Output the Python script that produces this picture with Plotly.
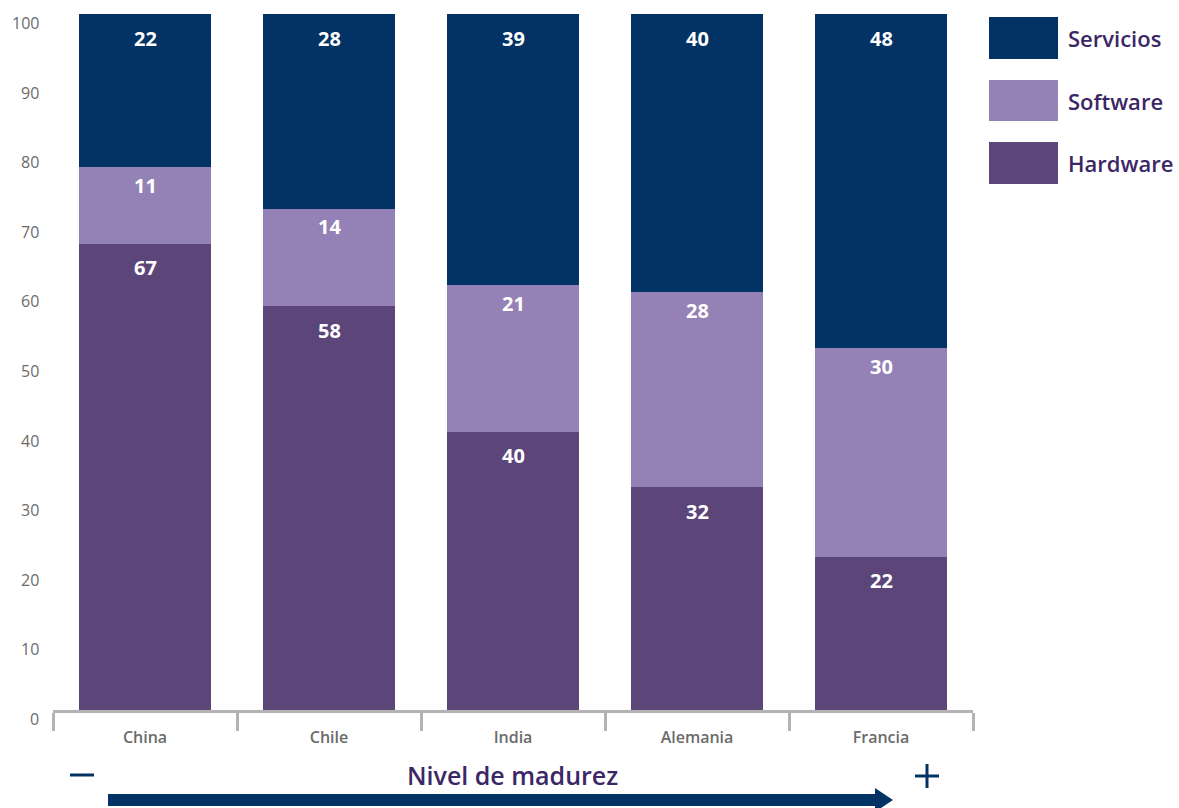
import plotly.graph_objects as go

paises = ["China", "Chile", "India", "Alemania", "Francia"]
hardware = [67, 58, 40, 32, 22]
software = [11, 14, 21, 28, 30]
servicios = [22, 28, 39, 40, 48]
y_ticks = [0, 10, 20, 30, 40, 50, 60, 70, 80, 90, 100]

C_SERV = "#023364"
C_SOFT = "#9481b6"
C_HARD = "#5b4579"
C_TXT = "#3b2766"
C_GRAY = "#6b6b6b"
C_AXIS = "#b3b3b3"
FONT = "Open Sans"

fig = go.Figure()
series = [("Hardware", hardware, C_HARD), ("Software", software, C_SOFT), ("Servicios", servicios, C_SERV)]
for name, vals, col in series:
    fig.add_trace(go.Bar(x=paises, y=vals, name=name, marker=dict(color=col, line=dict(width=0)),
                         showlegend=False, hoverinfo="skip"))

label_shift = {"Hardware": -24, "Software": -18, "Servicios": -24}
ann = []
base = [0] * len(paises)
for name, vals, col in series:
    for i, (p, v) in enumerate(zip(paises, vals)):
        top = base[i] + v
        ann.append(dict(x=p, y=top, xref="x", yref="y", text=f"<b>{v}</b>", showarrow=False,
                        yanchor="middle", yshift=label_shift[name],
                        font=dict(family=FONT, size=20, color="white")))
        base[i] = top

for t in y_ticks:
    ann.append(dict(x=0, y=t, xref="paper", yref="y", text=str(t), showarrow=False,
                    xanchor="right", xshift=-12, yshift=-9,
                    font=dict(family=FONT, size=16, color=C_GRAY)))

shapes = []
W, H = 1179, 808
L, R, T, B = 53, 206, 14, 98
pw, ph = W - L - R, H - T - B
def px(x):
    return (x - L) / pw
def py(y):
    return (H - B - y) / ph

leg = [("Servicios", C_SERV, 17, 59), ("Software", C_SOFT, 80, 121), ("Hardware", C_HARD, 142, 184)]
for name, col, y0, y1 in leg:
    shapes.append(dict(type="rect", xref="paper", yref="paper", x0=px(989), x1=px(1058),
                       y0=py(y1), y1=py(y0), fillcolor=col, line=dict(width=0), layer="above"))
    ann.append(dict(x=px(1066), y=py((y0 + y1) / 2), xref="paper", yref="paper", text=name,
                    showarrow=False, xanchor="left", yanchor="middle",
                    font=dict(family=FONT, size=22, color=C_TXT, weight=600)))

ann.append(dict(x=px(512), y=py(775), xref="paper", yref="paper", text="Nivel de madurez",
                showarrow=False, xanchor="center", yanchor="middle",
                font=dict(family=FONT, size=25, color=C_TXT, weight=600)))
shapes.append(dict(type="line", xref="paper", yref="paper", x0=px(70), x1=px(94), y0=py(775), y1=py(775),
                   line=dict(color=C_SERV, width=3)))
shapes.append(dict(type="line", xref="paper", yref="paper", x0=px(915), x1=px(939), y0=py(776), y1=py(776),
                   line=dict(color=C_SERV, width=3)))
shapes.append(dict(type="line", xref="paper", yref="paper", x0=px(927), x1=px(927), y0=py(764), y1=py(788),
                   line=dict(color=C_SERV, width=3)))
shapes.append(dict(type="path", xref="paper", yref="paper",
                   path=(f"M {px(108)},{py(794)} L {px(875)},{py(794)} L {px(875)},{py(788)} "
                         f"L {px(893)},{py(800)} L {px(875)},{py(812)} L {px(875)},{py(806)} "
                         f"L {px(108)},{py(806)} Z"),
                   fillcolor=C_SERV, line=dict(width=0)))

fig.update_layout(
    barmode="stack",
    bargap=0.283,
    width=W, height=H,
    margin=dict(l=L, r=R, t=T, b=B),
    paper_bgcolor="white", plot_bgcolor="white",
    xaxis=dict(type="category", range=[-0.5, 4.5], showline=True, linecolor=C_AXIS, linewidth=3,
               ticks="outside", tickson="boundaries", ticklen=18, tickwidth=3, tickcolor=C_AXIS,
               ticklabelstandoff=11,
               showgrid=False, zeroline=False,
               tickfont=dict(family=FONT, size=16, color=C_GRAY, weight=600)),
    yaxis=dict(range=[0, 100], showticklabels=False, showgrid=False, zeroline=False, showline=False),
    annotations=ann,
    shapes=shapes,
    showlegend=False,
)

fig.write_html("out.html", config={"displayModeBar": False},
               post_script="document.body.style.margin='0';document.body.style.overflow='hidden';")
